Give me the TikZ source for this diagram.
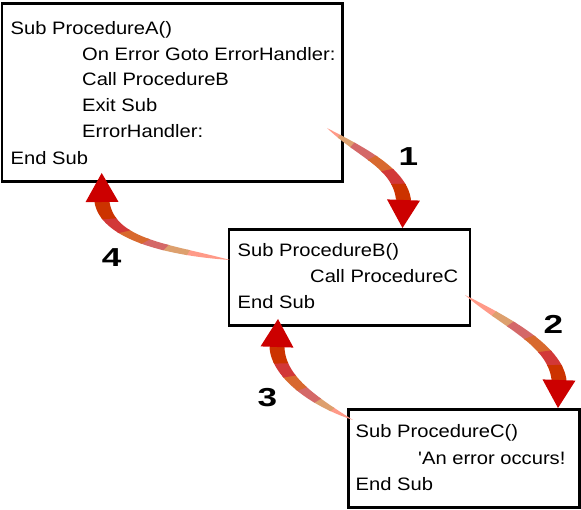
\documentclass[tikz,border=0pt]{standalone}
\usepackage{fontspec}
\usetikzlibrary{calc}
\newfontfamily\bx[FakeStretch=1.12]{Liberation Sans}
\newfontfamily\nm[FakeStretch=1.35]{Liberation Sans}
\definecolor{g0}{HTML}{FF9A88}
\definecolor{g1}{HTML}{DDA06E}
\definecolor{g2}{HTML}{D46868}
\definecolor{g3}{HTML}{D8692E}
\definecolor{g4}{HTML}{D23838}
\definecolor{g5}{HTML}{CC3300}
\definecolor{g6}{HTML}{CC0000}
\tikzset{
  box/.style={draw=black, line width=2.8pt, fill=white, rectangle, inner sep=0pt, outer sep=0pt, anchor=north west},
  lbl/.style={anchor=base west, inner sep=0pt, font=\bx\fontsize{18}{18}\selectfont},
  num/.style={anchor=base, inner sep=0pt, font=\nm\bfseries\fontsize{26}{26}\selectfont},
}
% #1 prefix, #2 tail, #3 ctrl1, #4 ctrl2, #5 head base centre, #6 tip, #7 bands
\newcommand\gradarrow[7]{%
  \coordinate (#1T) at #2;
  \coordinate (#1a) at #3;
  \coordinate (#1b) at #4;
  \coordinate (#1H) at #5;
  \coordinate (#1P) at #6;
  \coordinate (#1Hl) at ($(#1H)!7.5pt!90:(#1P)$);
  \coordinate (#1Hr) at ($(#1H)!7.5pt!-90:(#1P)$);
  \coordinate (#1bl) at ($(#1b)+(#1Hl)-(#1H)$);
  \coordinate (#1br) at ($(#1b)+(#1Hr)-(#1H)$);
  \coordinate (#1al) at ($(#1a)!6pt!90:(#1b)$);
  \coordinate (#1ar) at ($(#1a)!6pt!-90:(#1b)$);
  \foreach \i in {0,...,60}{
    \pgfmathsetmacro\gpos{\i/60}
    \path (#1T) .. controls (#1al) and (#1bl) .. (#1Hl) coordinate[pos=\gpos] (#1L\i);
    \path (#1T) .. controls (#1ar) and (#1br) .. (#1Hr) coordinate[pos=\gpos] (#1R\i);
  }
  \foreach \s/\e/\c in {#7}{
    \fill[\c] (#1L\s) \foreach \j in {\s,...,\e}{ -- (#1L\j)} \foreach \j in {\e,...,\s}{ -- (#1R\j)} -- cycle;
  }
  \fill[g6] ($(#1H)!16.5pt!90:(#1P)$) -- (#1P) -- ($(#1H)!16.5pt!-90:(#1P)$) -- cycle;
}
\begin{document}
\begin{tikzpicture}[x=1pt, y=-1pt]
\useasboundingbox[fill=white] (0,0) rectangle (581,510);
% boxes
\node[box, minimum width=340.5pt, minimum height=178.5pt] (A) at (2,3.2) {};
\node[box, minimum width=241pt, minimum height=96pt] (B) at (229,229.5) {};
\node[box, minimum width=230.8pt, minimum height=98pt] (C) at (348.7,409.6) {};
% box A text
\node[lbl] (a1) at (10.5,34.3) {Sub ProcedureA()};
\node[lbl] (a2) at (82,60.2) {On Error Goto ErrorHandler:};
\node[lbl] (a3) at (82,86) {Call ProcedureB};
\node[lbl] (a4) at (82,111.8) {Exit Sub};
\node[lbl] (a5) at (82,137.8) {ErrorHandler:};
\node[lbl] (a6) at (10.5,165) {End Sub};
% box B text
\node[lbl] (b1) at (237.5,256.7) {Sub ProcedureB()};
\node[lbl] (b2) at (310,283) {Call ProcedureC};
\node[lbl] (b3) at (237.5,308.5) {End Sub};
% box C text
\node[lbl] (c1) at (355.5,437.7) {Sub ProcedureC()};
\node[lbl] (c2) at (418,464.3) {'An error occurs!};
\node[lbl] (c3) at (355.5,490.7) {End Sub};
% numbers
\node[num] (n1) at (408.4,166) {1};
\node[num] (n2) at (553.5,333.5) {2};
\node[num] (n3) at (267.5,406.7) {3};
\node[num] (n4) at (111.7,266.7) {4};
% arrows
\gradarrow{p}{(327,128)}{(360,152)}{(400,168)}{(403.5,200)}{(402.5,228)}
  {0/8/g0, 7/16/g1, 15/28/g2, 27/39/g3, 38/50/g4, 49/60/g5}
\gradarrow{q}{(465,295)}{(505,322)}{(555,345)}{(559,380)}{(558,408)}
  {0/15/g0, 14/23/g1, 22/33/g2, 32/43/g3, 42/52/g4, 51/60/g5}
\gradarrow{r}{(353,420)}{(310,400)}{(278,375)}{(277,347)}{(278,319)}
  {0/11/g0, 10/19/g1, 18/29/g2, 28/39/g3, 38/49/g4, 48/60/g5}
\gradarrow{s}{(230,260)}{(170,250)}{(108,240)}{(102,202)}{(101.7,173)}
  {0/15/g0, 14/23/g1, 22/31/g2, 30/41/g3, 40/51/g4, 50/60/g5}
\end{tikzpicture}
\end{document}
